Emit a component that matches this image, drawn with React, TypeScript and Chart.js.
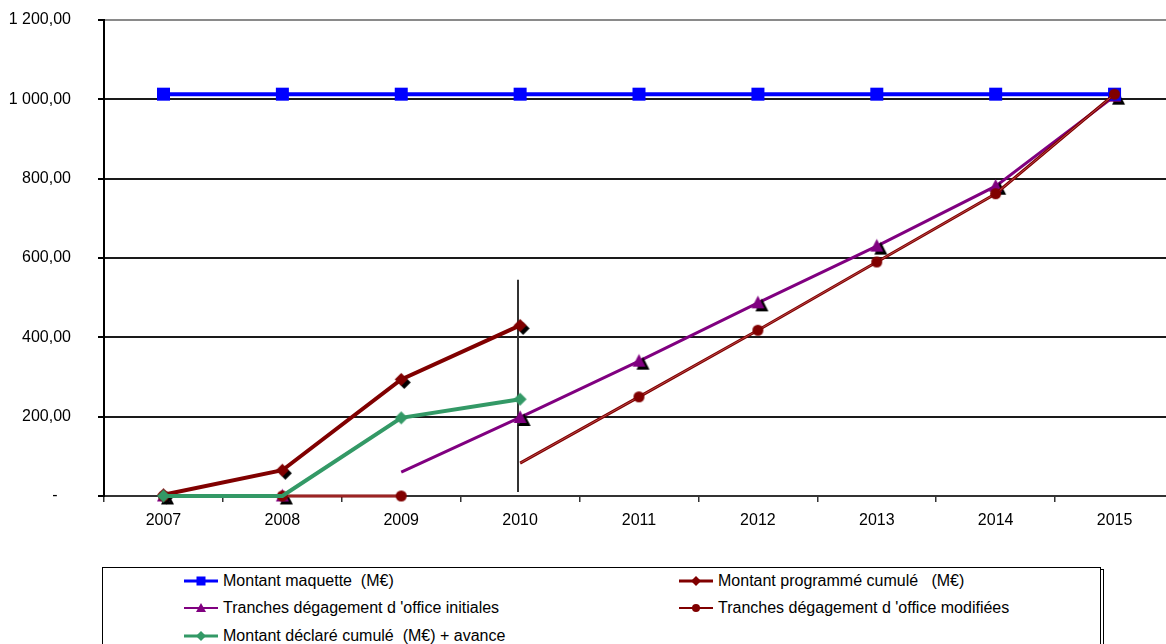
import React, { useEffect, useRef } from 'react';
import { Chart, registerables } from 'chart.js';

Chart.register(...registerables);

// ---------- Data ----------
const years = ['2007', '2008', '2009', '2010', '2011', '2012', '2013', '2014', '2015'];
const montantMaquette = [1013, 1013, 1013, 1013, 1013, 1013, 1013, 1013, 1013];
const montantProgramme = [3, 65, 294, 430, null, null, null, null, null];
const tranchesInitiales = [0, 0, 60, 198, 340, 487, 630, 781, 1008];
const tranchesModifiees = [0, 0, 0, 83, 250, 418, 590, 762, 1013];
const montantDeclare = [0, 0, 197, 244, null, null, null, null, null];
const yTickLabels = ['-   ', '200,00', '400,00', '600,00', '800,00', '1 000,00', '1 200,00'];

// points drawn without a marker, and segments that are not drawn (index of first point)
const initialesNoMarker = [2];
const initialesGapAfter = 1;
const modifieesNoMarker = [3];
const modifieesGapAfter = 2;
const declareNoMarker = [1];

// vertical reference line
const markerYear = '2010';
const markerRange = [545, 10];

const legendLabels = [
  'Montant maquette  (M€)',
  'Montant programmé cumulé   (M€)',
  "Tranches dégagement d 'office initiales",
  "Tranches dégagement d 'office modifiées",
  'Montant déclaré cumulé  (M€) + avance',
];

// ---------- Styles ----------
const BLUE = '#0000FF';
const DARKRED = '#800000';
const PURPLE = '#800080';
const GREEN = '#339966';
const FONT = '"Liberation Sans", Arial, Helvetica, sans-serif';

type Shape = 'square' | 'diamond' | 'triangle' | 'circle';

function shapePath(ctx: CanvasRenderingContext2D, shape: Shape, x: number, y: number, s: number) {
  ctx.beginPath();
  if (shape === 'square') {
    ctx.rect(x - s / 2, y - s / 2, s, s);
  } else if (shape === 'diamond') {
    ctx.moveTo(x, y - s / 2);
    ctx.lineTo(x + s / 2, y);
    ctx.lineTo(x, y + s / 2);
    ctx.lineTo(x - s / 2, y);
    ctx.closePath();
  } else if (shape === 'triangle') {
    ctx.moveTo(x, y - s * 0.55);
    ctx.lineTo(x + s / 2, y + s * 0.42);
    ctx.lineTo(x - s / 2, y + s * 0.42);
    ctx.closePath();
  } else {
    ctx.arc(x, y, s / 2, 0, Math.PI * 2);
  }
}

function markerCanvas(shape: Shape, fill: string, size: number, shadow?: [number, number]) {
  const pad = shadow ? Math.max(Math.abs(shadow[0]), Math.abs(shadow[1])) : 0;
  const dim = Math.ceil(size + 2 * pad + 2);
  const c = document.createElement('canvas');
  c.width = dim;
  c.height = dim;
  const ctx = c.getContext('2d')!;
  const cx = dim / 2;
  const cy = dim / 2;
  if (shadow) {
    ctx.fillStyle = '#000';
    shapePath(ctx, shape, cx + shadow[0], cy + shadow[1], size);
    ctx.fill();
  }
  ctx.fillStyle = fill;
  shapePath(ctx, shape, cx, cy, size);
  ctx.fill();
  return c;
}

const radiusList = (n: number, hidden: number[], r: number) =>
  Array.from({ length: n }, (_, i) => (hidden.includes(i) ? 0 : r));

const todayLinePlugin = {
  id: 'todayLine',
  beforeDatasetsDraw(chart: any) {
    const { ctx, scales } = chart;
    const x = Math.round(scales.x.getPixelForValue(years.indexOf(markerYear))) - 2;
    const y1 = scales.y.getPixelForValue(markerRange[0]);
    const y2 = scales.y.getPixelForValue(markerRange[1]);
    ctx.save();
    ctx.strokeStyle = '#333';
    ctx.lineWidth = 2;
    ctx.beginPath();
    ctx.moveTo(x, y1);
    ctx.lineTo(x, y2);
    ctx.stroke();
    ctx.restore();
  },
};

function LegendIcon({ color, shape, lw }: { color: string; shape: Shape; lw: number }) {
  const w = 34;
  const h = 14;
  const c = h / 2;
  let marker: React.ReactNode = null;
  const s = 9;
  if (shape === 'square') marker = <rect x={w / 2 - s / 2} y={c - s / 2} width={s} height={s} fill={color} />;
  else if (shape === 'diamond')
    marker = <polygon points={`${w / 2},${c - 5} ${w / 2 + 5},${c} ${w / 2},${c + 5} ${w / 2 - 5},${c}`} fill={color} />;
  else if (shape === 'triangle')
    marker = <polygon points={`${w / 2},${c - 5} ${w / 2 + 5},${c + 4} ${w / 2 - 5},${c + 4}`} fill={color} />;
  else marker = <circle cx={w / 2} cy={c} r={4} fill={color} />;
  return (
    <svg width={w} height={h} style={{ display: 'block', flex: 'none' }}>
      <line x1={0} y1={c} x2={w} y2={c} stroke={color} strokeWidth={lw} />
      {marker}
    </svg>
  );
}

export default function App() {
  const ref = useRef<HTMLCanvasElement>(null);

  useEffect(() => {
    const canvas = ref.current;
    if (!canvas) return;

    const squareImg = markerCanvas('square', BLUE, 13);
    const progImg = markerCanvas('diamond', DARKRED, 13, [3, 3]);
    const triImg = markerCanvas('triangle', PURPLE, 13, [4, 3]);
    const circleImg = markerCanvas('circle', DARKRED, 11);
    const greenImg = markerCanvas('diamond', GREEN, 13);
    const n = years.length;

    const chart = new Chart(canvas, {
      type: 'line',
      data: {
        labels: years,
        datasets: [
          {
            label: legendLabels[4],
            data: montantDeclare,
            borderColor: GREEN,
            backgroundColor: GREEN,
            borderWidth: 4,
            pointStyle: greenImg as any,
            pointRadius: radiusList(n, declareNoMarker, 6),
            tension: 0,
            clip: false as any,
          },
          {
            label: legendLabels[3],
            data: tranchesModifiees,
            borderColor: '#B84848',
            backgroundColor: DARKRED,
            borderWidth: 1,
            pointStyle: circleImg as any,
            pointRadius: radiusList(n, modifieesNoMarker, 6),
            tension: 0,
            clip: false as any,
            segment: {
              borderColor: (c: any) => (c.p0DataIndex === modifieesGapAfter ? 'rgba(0,0,0,0)' : undefined),
            },
          },
          {
            label: legendLabels[3] + ' (trait)',
            data: tranchesModifiees,
            borderColor: DARKRED,
            borderWidth: 3,
            pointRadius: 0,
            tension: 0,
            clip: false as any,
            segment: {
              borderColor: (c: any) => (c.p0DataIndex === modifieesGapAfter ? 'rgba(0,0,0,0)' : undefined),
            },
          },
          {
            label: legendLabels[0],
            data: montantMaquette,
            borderColor: BLUE,
            backgroundColor: BLUE,
            borderWidth: 4,
            pointStyle: squareImg as any,
            pointRadius: 6,
            tension: 0,
            clip: false as any,
          },
          {
            label: legendLabels[1],
            data: montantProgramme,
            borderColor: DARKRED,
            backgroundColor: DARKRED,
            borderWidth: 4,
            pointStyle: progImg as any,
            pointRadius: 6,
            tension: 0,
            clip: false as any,
          },
          {
            label: legendLabels[2],
            data: tranchesInitiales,
            borderColor: PURPLE,
            backgroundColor: PURPLE,
            borderWidth: 3,
            pointStyle: triImg as any,
            pointRadius: radiusList(n, initialesNoMarker, 6),
            tension: 0,
            clip: false as any,
            segment: {
              borderColor: (c: any) => (c.p0DataIndex === initialesGapAfter ? 'rgba(0,0,0,0)' : undefined),
            },
          },
        ],
      },
      options: {
        animation: false,
        responsive: false,
        maintainAspectRatio: false,
        layout: { autoPadding: false, padding: { left: 0, right: 6, top: 20, bottom: 4 } },
        plugins: {
          legend: { display: false },
          tooltip: { enabled: false },
        },
        scales: {
          x: {
            type: 'category',
            offset: true,
            grid: {
              offset: true,
              drawOnChartArea: false,
              drawTicks: true,
              tickLength: 6,
              color: '#333',
              lineWidth: 1.5,
            },
            border: { color: '#333', width: 2 },
            ticks: {
              color: '#000',
              font: { family: FONT, size: 16 },
              padding: 9,
              maxRotation: 0,
              autoSkip: false,
            },
            afterFit: (s: any) => {
              s.height = 40;
              s.paddingLeft = 0;
              s.paddingRight = 0;
            },
          },
          y: {
            min: 0,
            max: 1200,
            grid: {
              color: (c: any) => (c.tick && c.tick.value === 1200 ? '#8a8a8a' : '#1a1a1a'),
              tickColor: '#000',
              lineWidth: 2,
              tickLength: 6,
            },
            border: { color: '#000', width: 2 },
            ticks: {
              stepSize: 200,
              color: '#000',
              font: { family: FONT, size: 16 },
              padding: 27,
              callback: (_v: any, i: number) => yTickLabels[i],
            },
            afterFit: (s: any) => {
              s.width = 104;
              s.paddingTop = 0;
              s.paddingBottom = 0;
            },
          },
        },
      },
      plugins: [todayLinePlugin],
    } as any);

    return () => chart.destroy();
  }, []);

  const legendItems: { color: string; shape: Shape; lw: number; left: number; top: number }[] = [
    { color: BLUE, shape: 'square', lw: 3, left: 82, top: 14 },
    { color: DARKRED, shape: 'diamond', lw: 3, left: 577, top: 14 },
    { color: PURPLE, shape: 'triangle', lw: 2, left: 82, top: 41 },
    { color: DARKRED, shape: 'circle', lw: 2, left: 577, top: 41 },
    { color: GREEN, shape: 'diamond', lw: 3, left: 82, top: 69 },
  ];

  return (
    <div
      style={{
        position: 'fixed',
        left: 0,
        top: 0,
        width: 1180,
        height: 644,
        overflow: 'hidden',
        background: '#fff',
      }}
    >
      <canvas
        ref={ref}
        width={1180}
        height={540}
        style={{ position: 'absolute', left: 0, top: 0, width: 1180, height: 540 }}
      />
      <div
        style={{
          position: 'absolute',
          left: 105,
          top: 569,
          width: 999,
          height: 120,
          boxSizing: 'border-box',
          border: '1px solid #000',
        }}
      />
      <div
        style={{
          position: 'absolute',
          left: 102,
          top: 567,
          width: 999,
          height: 120,
          boxSizing: 'border-box',
          border: '1px solid #000',
          background: '#fff',
          fontFamily: FONT,
          fontSize: 16,
          color: '#000',
        }}
      >
        {legendItems.map((it, i) => (
          <div
            key={i}
            style={{
              position: 'absolute',
              left: it.left - 1,
              top: it.top - 1 - 10,
              height: 20,
              display: 'flex',
              alignItems: 'center',
              whiteSpace: 'pre',
            }}
          >
            <LegendIcon color={it.color} shape={it.shape} lw={it.lw} />
            <span style={{ marginLeft: 5 }}>{legendLabels[i]}</span>
          </div>
        ))}
      </div>
    </div>
  );
}
